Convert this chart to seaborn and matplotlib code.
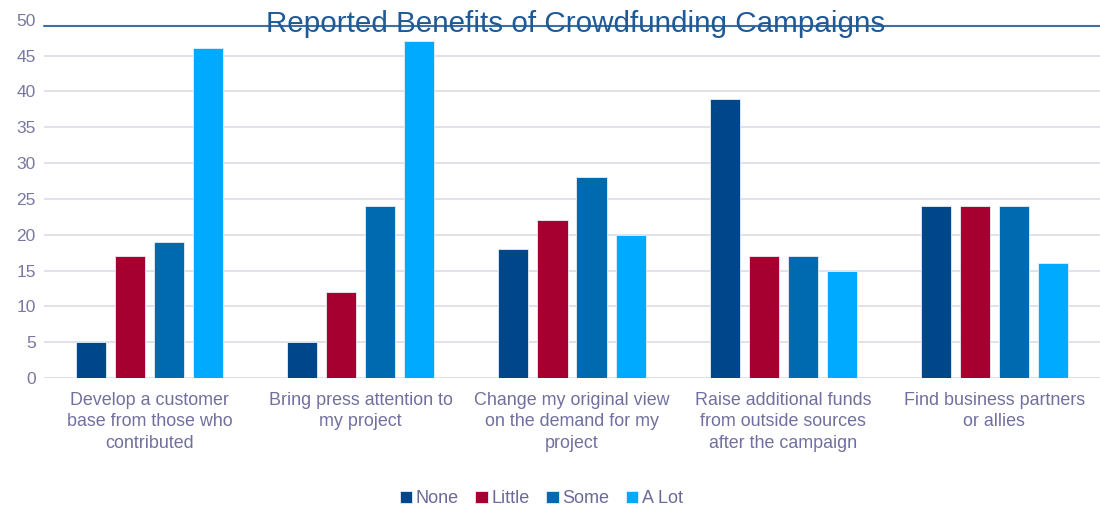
import matplotlib
matplotlib.use("Agg")
import matplotlib.pyplot as plt
from matplotlib.lines import Line2D
import seaborn as sns
import pandas as pd

categories = [
    "Develop a customer\nbase from those who\ncontributed",
    "Bring press attention to\nmy project",
    "Change my original view\non the demand for my\nproject",
    "Raise additional funds\nfrom outside sources\nafter the campaign",
    "Find business partners\nor allies",
]
levels = ["None", "Little", "Some", "A Lot"]
none_vals = [5, 5, 18, 39, 24]
little_vals = [17, 12, 22, 17, 24]
some_vals = [19, 24, 28, 17, 24]
alot_vals = [46, 47, 20, 15, 16]
colors = ["#00468a", "#a50030", "#006ab0", "#00aaff"]

rows = []
for lvl, vals in zip(levels, [none_vals, little_vals, some_vals, alot_vals]):
    for cat, v in zip(categories, vals):
        rows.append({"benefit": cat, "level": lvl, "count": v})
df = pd.DataFrame(rows)

sns.set_theme(style="white")
plt.rcParams["font.family"] = ["Liberation Sans", "DejaVu Sans"]

fig = plt.figure(figsize=(11, 5.08), dpi=100)
ax = fig.add_axes([0.04, 0.256, 0.96, 0.705])

sns.barplot(data=df, x="benefit", y="count", hue="level", order=categories,
            hue_order=levels, palette=colors, saturation=1, width=0.74, gap=0.23,
            edgecolor="#e8eef8", linewidth=0.6, ax=ax, zorder=3)

ax.set_ylim(0, 50)
ax.set_yticks(range(0, 51, 5))
ax.set_xlim(-0.5, len(categories) - 0.5)
for y in range(0, 50, 5):
    ax.axhline(y, color="#dcdce8", linewidth=1.2, zorder=1)

for s in ax.spines.values():
    s.set_visible(False)
ax.tick_params(axis="y", labelsize=12.5, labelcolor="#7878a0", length=0, pad=6)
ax.tick_params(axis="x", labelsize=12.9, labelcolor="#7070a0", length=0, pad=10)
for lab in ax.get_xticklabels():
    lab.set_linespacing(1.35)
ax.set_xlabel("")
ax.set_ylabel("")

# title rule running across the top of the chart
fig.add_artist(Line2D([0.04, 1.0], [0.9488, 0.9488], transform=fig.transFigure,
                      color="#3d70a3", linewidth=1.5, zorder=4))
fig.text(0.523, 0.952, "Reported Benefits of Crowdfunding Campaigns",
         ha="center", va="center", fontsize=21.3, color="#1f5a96", zorder=5)

handles, labels = ax.get_legend_handles_labels()
ax.legend(handles, labels, loc="center", bbox_to_anchor=(0.492, 0.018),
          bbox_transform=fig.transFigure, ncol=4, frameon=False,
          fontsize=13, labelcolor="#6a6a98", handlelength=0.7, handleheight=0.7,
          handletextpad=0.2, columnspacing=0.9)

fig.savefig("out.png", dpi=100)
